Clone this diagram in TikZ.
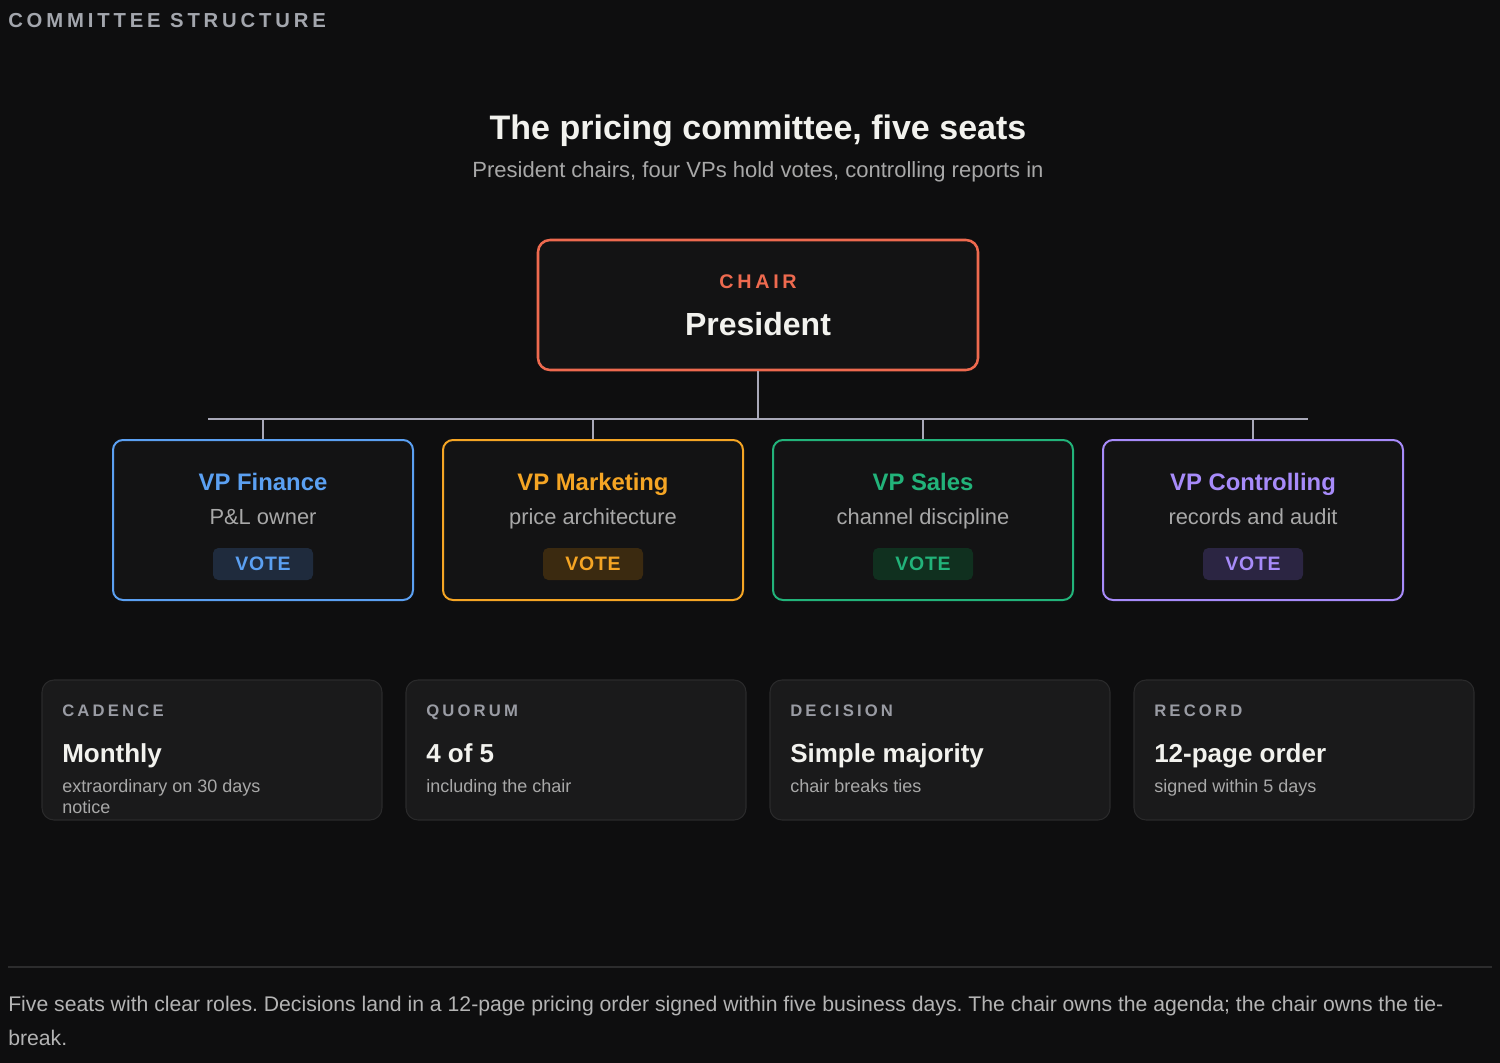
\documentclass[tikz,border=0pt]{standalone}
\usepackage{fontspec}
\setmainfont{Liberation Sans}
\newfontfamily\trk[LetterSpace=19]{Liberation Sans}
\newfontfamily\trks[LetterSpace=4]{Liberation Sans}
\definecolor{bg}{HTML}{0E0E0F}
\definecolor{hdrgray}{HTML}{A3A6AD}
\definecolor{titlecol}{HTML}{F2F2EE}
\definecolor{subgray}{HTML}{A8A8A8}
\definecolor{chaircol}{HTML}{EE6A4F}
\definecolor{linkcol}{HTML}{A8A8B8}
\definecolor{boxfill}{HTML}{131314}
\definecolor{cblue}{HTML}{5BA0F2}
\definecolor{corange}{HTML}{F5A524}
\definecolor{cgreen}{HTML}{22B37A}
\definecolor{cpurple}{HTML}{A78BFA}
\definecolor{bblue}{HTML}{1F2B3D}
\definecolor{borange}{HTML}{3B2A10}
\definecolor{bgreen}{HTML}{10301F}
\definecolor{bpurple}{HTML}{2B2542}
\definecolor{cardfill}{HTML}{1A1A1B}
\definecolor{cardline}{HTML}{2A2A2B}
\definecolor{cardlabel}{HTML}{9A9CA4}
\definecolor{divcol}{HTML}{2C2C2D}
\definecolor{footcol}{HTML}{B4B4B4}
\tikzset{
  vpbox/.style={draw=#1, line width=1.5pt, fill=boxfill, rounded corners=7.5pt,
    minimum width=225pt, minimum height=120pt, inner sep=0pt},
  badge/.style={fill=#1, rounded corners=4pt, minimum width=75pt, minimum height=24pt, inner sep=0pt},
  card/.style={draw=cardline, line width=0.8pt, fill=cardfill, rounded corners=9pt,
    minimum width=255pt, minimum height=105pt, inner sep=0pt},
  txt/.style={inner sep=0pt, anchor=base},
  txtw/.style={inner sep=0pt, anchor=base west},
  link/.style={draw=linkcol, line width=1.3pt}
}
\begin{document}
\frenchspacing
\begin{tikzpicture}[x=0.75pt,y=-0.75pt]
\useasboundingbox (0,0) rectangle (1500,1063);
\fill[bg] (0,0) rectangle (1500,1063);

\node[txtw, text=hdrgray] (hdr) at (8,28) {\trk\bfseries\fontsize{15.2}{18}\selectfont COMMITTEE STRUCTURE};

\node[txt, text=titlecol] (title) at (758,140) {\bfseries\fontsize{25.5}{30}\selectfont The pricing committee, five seats};
\node[txt, text=subgray] (subtitle) at (758,177) {\fontsize{16.5}{20}\selectfont President chairs, four VPs hold votes, controlling reports in};

% chair
\node[draw=chaircol, line width=1.9pt, fill=boxfill, rounded corners=9pt, minimum width=330pt, minimum height=97.5pt, inner sep=0pt] (chair) at (758,305) {};
\node[txt, text=chaircol] (chairlbl) at (758,288) {\trk\bfseries\fontsize{14.8}{17}\selectfont CHAIR};
\node[txt, text=titlecol] (pres) at (758,335) {\bfseries\fontsize{24}{29}\selectfont President};

% VP boxes
\node[vpbox=cblue] (vp1) at (263,520) {};
\node[vpbox=corange] (vp2) at (593,520) {};
\node[vpbox=cgreen] (vp3) at (923,520) {};
\node[vpbox=cpurple] (vp4) at (1253,520) {};

\foreach \n/\x/\c/\b/\t/\s in {1/263/cblue/bblue/VP Finance/P\&L owner,
  2/593/corange/borange/VP Marketing/price architecture,
  3/923/cgreen/bgreen/VP Sales/channel discipline,
  4/1253/cpurple/bpurple/VP Controlling/records and audit}{
  \node[txt, text=\c] (vpt\n) at (\x,490) {\bfseries\fontsize{17.9}{21}\selectfont \t};
  \node[txt, text=subgray] (vps\n) at (\x,524) {\fontsize{16.4}{19}\selectfont \s};
  \node[badge=\b] (badge\n) at (\x,564) {};
  \node[txt, text=\c] (vote\n) at (\x,570) {\trks\bfseries\fontsize{14.6}{17}\selectfont VOTE};
}

% connectors
\coordinate (busC) at (758,419);
\coordinate (busL) at (208,419);
\coordinate (busR) at (1308,419);
\draw[link] (chair.south) -- (busC);
\draw[link] (busL) -- (busR);
\foreach \n/\x in {1/263,2/593,3/923,4/1253}{
  \coordinate (tap\n) at (\x,419);
  \draw[link] (tap\n) -- (vp\n.north);
}

% cards
\node[card] (card1) at (212,750) {};
\node[card] (card2) at (576,750) {};
\node[card] (card3) at (940,750) {};
\node[card] (card4) at (1304,750) {};
\foreach \n/\x/\l/\v/\s in {1/62/CADENCE/Monthly/extraordinary on 30 days,
  2/426/QUORUM/4 of 5/including the chair,
  3/790/DECISION/Simple majority/chair breaks ties,
  4/1154/RECORD/12-page order/signed within 5 days}{
  \node[txtw, text=cardlabel] (cl\n) at (\x,716) {\trk\bfseries\fontsize{12.5}{15}\selectfont \l};
  \node[txtw, text=titlecol] (cv\n) at (\x,762) {\bfseries\fontsize{19.5}{23}\selectfont \v};
  \node[txtw, text=subgray] (cs\n) at (\x,792) {\fontsize{13.5}{16}\selectfont \s};
}
\node[txtw, text=subgray] (cs1b) at (62,813) {\fontsize{13.5}{16}\selectfont notice};

% footer
\coordinate (divL) at (8,967);
\coordinate (divR) at (1492,967);
\draw[divcol, line width=0.8pt] (divL) -- (divR);
\node[txtw, text=footcol] (foot1) at (8,1011) {\fontsize{15.9}{19}\selectfont Five seats with clear roles. Decisions land in a 12-page pricing order signed within five business days. The chair owns the agenda; the chair owns the tie-};
\node[txtw, text=footcol] (foot2) at (8,1045) {\fontsize{15.9}{19}\selectfont break.};
\end{tikzpicture}
\end{document}
